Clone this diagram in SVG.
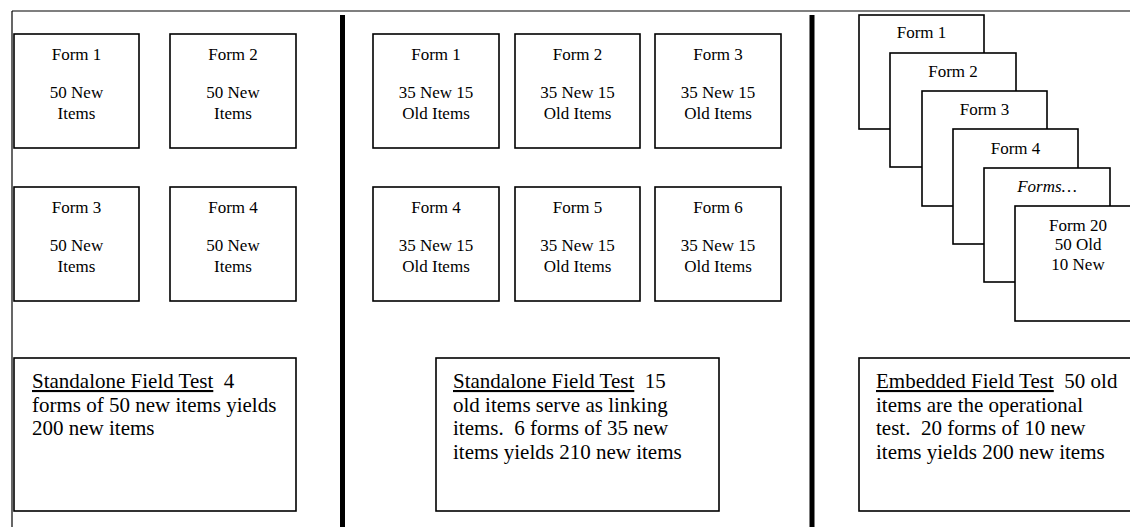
<svg xmlns="http://www.w3.org/2000/svg" width="1130" height="527" viewBox="0 0 1130 527">
<style>
.box{fill:#fff;stroke:#000;stroke-width:1.6}
.frame{stroke:#000;stroke-width:1.2;fill:none}
.div{stroke:#000;stroke-width:5;fill:none}
text{font-family:'Liberation Serif','Times New Roman','DejaVu Serif',serif;fill:#000}
.t{font-size:17px;text-anchor:middle}
.b{font-size:21px;white-space:pre}
.u{text-decoration:underline}
</style>
<rect width="1130" height="527" fill="#fff"/>
<g id="frame">
<line class="frame" x1="12" y1="11" x2="1130" y2="11"/>
<line class="frame" x1="12" y1="11" x2="12" y2="527"/>
<line class="div" x1="342.5" y1="15" x2="342.5" y2="527"/>
<line class="div" x1="812" y1="15" x2="812" y2="527"/>
</g>
<g id="l-form1"><rect class="box" x="14" y="34" width="125" height="114"/><text class="t" x="76.5" y="60">Form 1</text><text class="t" x="76.5" y="98">50 New</text><text class="t" x="76.5" y="119">Items</text></g>
<g id="l-form2"><rect class="box" x="170" y="34" width="126" height="114"/><text class="t" x="233" y="60">Form 2</text><text class="t" x="233" y="98">50 New</text><text class="t" x="233" y="119">Items</text></g>
<g id="l-form3"><rect class="box" x="14" y="187" width="125" height="114"/><text class="t" x="76.5" y="213">Form 3</text><text class="t" x="76.5" y="251">50 New</text><text class="t" x="76.5" y="272">Items</text></g>
<g id="l-form4"><rect class="box" x="170" y="187" width="126" height="114"/><text class="t" x="233" y="213">Form 4</text><text class="t" x="233" y="251">50 New</text><text class="t" x="233" y="272">Items</text></g>
<g id="m-form1"><rect class="box" x="373" y="34" width="126" height="114"/><text class="t" x="436" y="60">Form 1</text><text class="t" x="436" y="98">35 New 15</text><text class="t" x="436" y="119">Old Items</text></g>
<g id="m-form2"><rect class="box" x="515" y="34" width="125" height="114"/><text class="t" x="577.5" y="60">Form 2</text><text class="t" x="577.5" y="98">35 New 15</text><text class="t" x="577.5" y="119">Old Items</text></g>
<g id="m-form3"><rect class="box" x="655" y="34" width="126" height="114"/><text class="t" x="718" y="60">Form 3</text><text class="t" x="718" y="98">35 New 15</text><text class="t" x="718" y="119">Old Items</text></g>
<g id="m-form4"><rect class="box" x="373" y="187" width="126" height="114"/><text class="t" x="436" y="213">Form 4</text><text class="t" x="436" y="251">35 New 15</text><text class="t" x="436" y="272">Old Items</text></g>
<g id="m-form5"><rect class="box" x="515" y="187" width="125" height="114"/><text class="t" x="577.5" y="213">Form 5</text><text class="t" x="577.5" y="251">35 New 15</text><text class="t" x="577.5" y="272">Old Items</text></g>
<g id="m-form6"><rect class="box" x="655" y="187" width="126" height="114"/><text class="t" x="718" y="213">Form 6</text><text class="t" x="718" y="251">35 New 15</text><text class="t" x="718" y="272">Old Items</text></g>
<g id="r-form1"><rect class="box" x="859" y="15" width="125" height="114"/><text class="t" x="921.5" y="38">Form 1</text></g>
<g id="r-form2"><rect class="box" x="890" y="53" width="126" height="114"/><text class="t" x="953" y="77">Form 2</text></g>
<g id="r-form3"><rect class="box" x="922" y="91" width="125" height="115"/><text class="t" x="984.5" y="115">Form 3</text></g>
<g id="r-form4"><rect class="box" x="953" y="129" width="125" height="115"/><text class="t" x="1015.5" y="154">Form 4</text></g>
<g id="r-forms"><rect class="box" x="984" y="168" width="126" height="114"/><text class="t" x="1047" y="192" font-style="italic">Forms…</text></g>
<g id="r-form20"><rect class="box" x="1015" y="206" width="126" height="115"/><text class="t" x="1078" y="231">Form 20</text><text class="t" x="1078" y="250">50 Old</text><text class="t" x="1078" y="270">10 New</text></g>
<g id="l-desc"><rect class="box" x="14" y="358" width="282" height="153"/><text class="b" x="32" y="388"><tspan class="u">Standalone Field Test</tspan>  4</text><text class="b" x="32" y="412">forms of 50 new items yields</text><text class="b" x="32" y="435">200 new items</text></g>
<g id="m-desc"><rect class="box" x="436" y="358" width="283" height="153"/><text class="b" x="453" y="388"><tspan class="u">Standalone Field Test</tspan>  15</text><text class="b" x="453" y="412">old items serve as linking</text><text class="b" x="453" y="435">items.  6 forms of 35 new</text><text class="b" x="453" y="459">items yields 210 new items</text></g>
<g id="r-desc"><rect class="box" x="859" y="358" width="283" height="153"/><text class="b" x="876" y="388"><tspan class="u">Embedded Field Test</tspan>  50 old</text><text class="b" x="876" y="412">items are the operational</text><text class="b" x="876" y="435">test.  20 forms of 10 new</text><text class="b" x="876" y="459">items yields 200 new items</text></g>
<g id="connectors"></g>
</svg>
